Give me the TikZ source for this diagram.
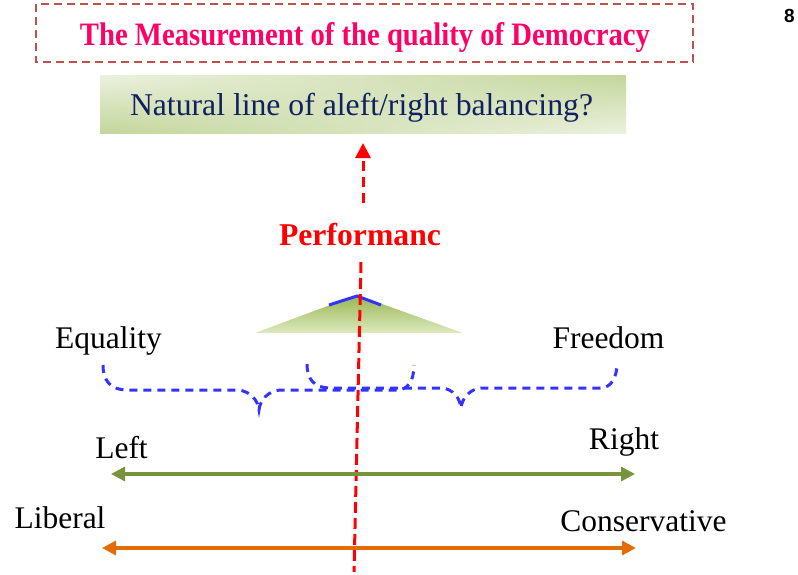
\documentclass[tikz,border=0pt]{standalone}
\usepackage{fontspec}
\usepackage{graphicx}
\setmainfont{Liberation Serif}
\newfontfamily\pagenumfont{Liberation Sans}
\usetikzlibrary{arrows.meta,shadings}
\definecolor{titlecol}{RGB}{255,0,102}
\definecolor{boxdash}{RGB}{192,80,77}
\definecolor{navytext}{RGB}{16,32,96}
\definecolor{braceblue}{RGB}{51,51,255}
\definecolor{axisgreen}{RGB}{119,147,60}
\definecolor{axisorange}{RGB}{227,108,9}
\definecolor{lightgreen}{RGB}{235,241,222}
\definecolor{midgreen}{RGB}{195,214,155}
\definecolor{moundgreen}{RGB}{150,182,80}
\definecolor{moundlight}{RGB}{222,233,192}
\tikzset{
  lbl/.style={font=\fontsize{31.5}{36}\selectfont, text=black, inner sep=0pt, anchor=base},
  bracedash/.style={draw=braceblue, line width=3pt, dash pattern=on 8pt off 6pt, line cap=butt},
  reddash/.style={draw=red, line width=3pt, dash pattern=on 11pt off 5pt},
  axisarrow/.style={line width=3.2pt, {Triangle[length=14pt,width=14pt]}-{Triangle[length=14pt,width=14pt]}},
}
\begin{document}
\begin{tikzpicture}[x=1pt,y=-1pt]
\useasboundingbox (0,0) rectangle (798,574);
% title box
\draw[boxdash, line width=2.8pt, dash pattern=on 8pt off 5pt] (36,4) rectangle (693,62);
\node[inner sep=0pt, anchor=base, text=titlecol, font=\fontsize{28.7}{32}\selectfont\bfseries] (title) at (365,45) {\scalebox{1}[1.14]{The Measurement of the quality of Democracy}};
% green gradient box
\shade[upper left=lightgreen, lower left=midgreen, upper right=midgreen, lower right=lightgreen] (100,75) rectangle (626,133);
\node[inner sep=0pt, anchor=base, text=navytext, font=\fontsize{31.7}{36}\selectfont] (natural) at (361.5,115) {Natural line of aleft/right balancing?};
% red arrow
\coordinate (arrowtop) at (363,143);
\coordinate (arrowbot) at (363,203);
\draw[red, line width=3pt, dash pattern=on 10pt off 6pt, -{Triangle[length=15pt,width=15pt]}] (arrowbot) -- (arrowtop);
\node[inner sep=0pt, anchor=base, text=red, font=\fontsize{31.7}{36}\selectfont\bfseries] (perf) at (360,245) {Performanc};
% mound
\shade[top color=moundgreen, bottom color=moundlight] (255,333) -- (357,295) -- (463,333) -- cycle;
\coordinate (mL) at (329,305);
\coordinate (mA) at (357,296);
\coordinate (mR) at (381,305);
\draw[braceblue, line width=3pt] (mL) -- (mA) -- (mR);
% red vertical line
\coordinate (lineA) at (361,262);
\coordinate (lineB) at (354,572);
\draw[reddash] (lineA) -- (lineB);
% labels
\node[lbl] (equality) at (108.5,348) {Equality};
\node[lbl] (freedom) at (608.5,348) {Freedom};
% braces
\draw[bracedash] (103,365) .. controls (103,382) and (112,390) .. (127,390) -- (238,390)
  .. controls (250,391) and (258,400) .. (259,410)
  .. controls (260,400) and (268,391) .. (280,390) -- (397,390)
  .. controls (407,390) and (414,382) .. (414,365);
\draw[bracedash] (307,364) .. controls (307,380) and (315,388) .. (330,388) -- (442,388)
  .. controls (453,389) and (460,398) .. (461,408)
  .. controls (462,398) and (470,389) .. (481,388) -- (600,388)
  .. controls (611,388) and (617,378) .. (617,363);
% axes
\node[lbl] (left) at (121.5,458) {Left};
\node[lbl] (right) at (624,449) {Right};
\coordinate (gL) at (111,474);
\coordinate (gR) at (635,474);
\draw[axisarrow, axisgreen] (gL) -- (gR);
\node[lbl] (liberal) at (60,528) {Liberal};
\node[lbl] (conservative) at (643.5,531) {Conservative};
\coordinate (oL) at (102,548);
\coordinate (oR) at (636,548);
\draw[axisarrow, axisorange] (oL) -- (oR);
% page number
\node[inner sep=0pt, anchor=base, font=\pagenumfont\fontsize{19}{22}\selectfont\bfseries] (pagenum) at (789.5,22) {8};
\end{tikzpicture}
\end{document}
